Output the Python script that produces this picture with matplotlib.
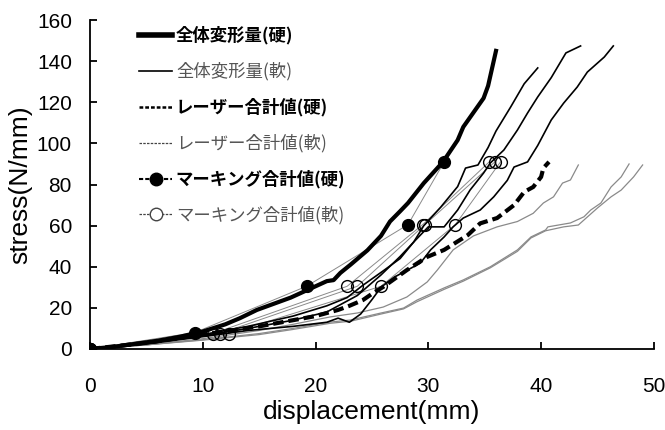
import matplotlib
matplotlib.use("Agg")
import matplotlib.pyplot as plt
from matplotlib.lines import Line2D

plt.rcParams["font.family"] = ["Liberation Sans", "DejaVu Sans"]

# 全体変形量 (hard sample, thick solid)
total_hard_x = [0, 2, 4, 6, 8, 10, 12, 13.3, 14.8, 16.3, 17.8, 19.0, 20.2, 21.0, 21.6,
                22.2, 23.1, 24.6, 25.8, 26.6, 27.5, 28.2, 29.6, 31.3, 32.6, 33.1, 34.0,
                34.9, 35.3, 36.0]
total_hard_y = [0, 1, 2.5, 4, 6, 8.5, 12, 15, 19, 22, 25, 28, 31, 33, 33.5,
                37, 41, 48, 55, 62, 67, 71, 80.7, 91, 101.6, 108, 115,
                122, 128, 145]

# 全体変形量 (soft samples, thin solid)
total_soft1_x = [0, 5, 10, 14, 18, 21, 22.8, 24.2, 26.0, 27.5, 28.7, 29.6, 31.1, 32.6,
                 33.3, 34.4, 35.3, 36.0, 37.3, 38.5, 39.7]
total_soft1_y = [0, 3, 7, 11, 16, 21, 25, 31, 38, 44, 52, 60, 69, 79,
                 88, 89.5, 98, 106, 117.7, 129, 136.7]
total_soft2_x = [0, 5, 10, 14, 18, 21, 23.7, 25.8, 27.5, 28.7, 30.0, 31.4, 32.6, 33.7,
                 34.9, 35.5, 36.7, 37.9, 38.8, 39.7, 40.9, 42.2, 43.5]
total_soft2_y = [0, 2.5, 6.5, 10, 14, 18, 26, 36, 45, 52, 59.4, 59.4, 67.6, 77.3,
                 85.6, 90.5, 96.8, 106.5, 114.8, 122.6, 132, 144, 147.4]
total_soft3_x = [0, 5, 10, 14, 18, 21, 22, 23, 24, 25, 25.8, 27, 29.3, 30.2, 31.4, 32.2,
                 33.1, 34.6, 35.8, 37.0, 37.6, 38.8, 39.7, 40.9, 42.0, 43.2, 44.1,
                 45.6, 46.4]
total_soft3_y = [0, 2.5, 6, 9, 11, 13, 15, 13, 17, 24, 30, 35, 41.8, 48.2, 54.5, 59.4,
                 63.7, 67.6, 74, 82, 88.5, 91, 99, 111.4, 119.6, 127.4, 134.7,
                 142, 147.4]

# レーザー合計値 (hard sample, thick dashed)
laser_hard_x = [0, 5, 10, 15, 18, 20, 22, 23, 24.2, 25.1, 26.0, 28.1, 29.9, 31.4, 33.5,
                34.6, 36.1, 37.6, 38.5, 39.3, 40.0, 40.2, 40.7]
laser_hard_y = [0, 3, 7, 11, 14, 16, 19, 21, 23.8, 27.2, 30.2, 38.4, 44.8, 48.2, 55.4,
                61.1, 63.7, 70, 76.4, 78.8, 83.7, 88, 91]

# レーザー合計値 (soft samples, thin gray)
laser_soft1_x = [0, 5, 10, 15, 18, 21.3, 23.7, 26.0, 28.1, 29.9, 30.8, 32.2, 34.0, 36.1,
                 37.9, 39.3, 40.2, 41.1, 41.9, 42.6, 43.3]
laser_soft1_y = [0, 2, 5, 9, 12, 15.6, 17.5, 20.4, 25.3, 32.6, 38.4, 48.2, 55, 59.4,
                 62, 66, 71, 74, 80.7, 82.2, 89.5]
laser_soft2_x = [0, 5, 10, 15, 18, 21.3, 23.1, 25.8, 27.8, 29.0, 31.4, 33.1, 35.5, 37.9,
                 39.1, 40.4, 40.6, 42.6, 43.8, 44.4, 45.3, 46.2, 47.1, 47.8]
laser_soft2_y = [0, 2, 4.5, 7.5, 10, 13.1, 14.1, 17.5, 19.9, 23.8, 29.7, 33.6, 40, 48.2,
                 54.5, 57.9, 59.4, 61.3, 64.3, 67.6, 71, 78.8, 83.7, 90]
laser_soft3_x = [0, 5, 10, 15, 18, 21.3, 23.1, 25.8, 27.8, 29.0, 31.4, 33.1, 35.5, 37.9,
                 39.1, 40.4, 42.0, 43.3, 45.0, 46.2, 47.1, 48.2, 49.0]
laser_soft3_y = [0, 2, 4.3, 7, 9.5, 12.5, 13.5, 17, 19.5, 23, 29, 33, 39.5, 47.5,
                 54, 57.5, 59.4, 60.3, 68.6, 74, 77.3, 83.7, 89.5]

# マーキング合計値 (marker points)
mark_hard_x = [0, 9.3, 19.2, 28.2, 31.4]
mark_hard_y = [0, 8, 30.5, 60.5, 91]
mark_soft1_x = [0, 10.9, 22.8, 29.5, 35.4]
mark_soft2_x = [0, 11.5, 23.7, 29.7, 35.9]
mark_soft3_x = [0, 12.3, 25.8, 32.4, 36.4]
mark_soft_y = [0, 7.5, 30.5, 60.5, 91]

legend_labels = ["全体変形量(硬)", "全体変形量(軟)", "レーザー合計値(硬)",
                 "レーザー合計値(軟)", "マーキング合計値(硬)", "マーキング合計値(軟)"]

gray = "#8a8a8a"

fig = plt.figure(figsize=(6.65, 4.30), dpi=100)
ax = fig.add_axes([0.1353, 0.1884, 0.848, 0.765])

# marking lines first so the curves sit on top
ax.plot(mark_hard_x, mark_hard_y, color=gray, lw=0.7)
for mx in (mark_soft1_x, mark_soft2_x, mark_soft3_x):
    ax.plot(mx, mark_soft_y, color=gray, lw=0.7)

for lx, ly in ((laser_soft1_x, laser_soft1_y), (laser_soft2_x, laser_soft2_y),
               (laser_soft3_x, laser_soft3_y)):
    ax.plot(lx, ly, color=gray, lw=0.9)

for tx, ty in ((total_soft1_x, total_soft1_y), (total_soft2_x, total_soft2_y),
               (total_soft3_x, total_soft3_y)):
    ax.plot(tx, ty, color="black", lw=1.2)

ax.plot(laser_hard_x, laser_hard_y, color="black", lw=3, dashes=(2.5, 1.2))
ax.plot(total_hard_x, total_hard_y, color="black", lw=3)

ax.plot(mark_hard_x, mark_hard_y, "o", color="black", ms=8.5)
for mx in (mark_soft1_x, mark_soft2_x, mark_soft3_x):
    ax.plot(mx, mark_soft_y, "o", mfc="none", mec="black", mew=1.0, ms=8.5)

ax.set_xlim(0, 50)
ax.set_ylim(0, 160)
ax.set_xticks(range(0, 51, 10))
ax.set_yticks(range(0, 161, 20))
ax.spines["top"].set_visible(False)
ax.spines["right"].set_visible(False)
ax.spines["left"].set_linewidth(1.3)
ax.spines["bottom"].set_linewidth(1.3)
ax.tick_params(axis="both", direction="in", length=5, width=1.3, labelsize=15)
ax.tick_params(axis="x", pad=20)
ax.tick_params(axis="y", pad=13)

ax.set_xlabel("displacement(mm)", fontsize=19, labelpad=3)
ax.set_ylabel("stress(N/mm)", fontsize=19, labelpad=3)

handles = [
    Line2D([], [], color="black", lw=4),
    Line2D([], [], color="black", lw=1.2),
    Line2D([], [], color="black", lw=1.8, dashes=(1.5, 0.8)),
    Line2D([], [], color="#444444", lw=0.9, dashes=(2, 1)),
    Line2D([], [], color="black", lw=1.5, dashes=(2, 1), marker="o", ms=9),
    Line2D([], [], color="#444444", lw=0.9, dashes=(2, 1), marker="o", ms=9,
           mfc="white", mec="#444444"),
]
leg = ax.legend(handles, legend_labels, loc="upper left", bbox_to_anchor=(0.06, 1.028),
                frameon=False, handlelength=1.9, handletextpad=0.2, labelspacing=1.0,
                prop={"family": ["Noto Sans CJK JP", "DejaVu Sans"], "size": 12.5})
for i, txt in enumerate(leg.get_texts()):
    if i % 2 == 0:
        txt.set_fontweight("bold")
        txt.set_color("black")
    else:
        txt.set_color("#555555")

fig.savefig("out.png", dpi=100)
